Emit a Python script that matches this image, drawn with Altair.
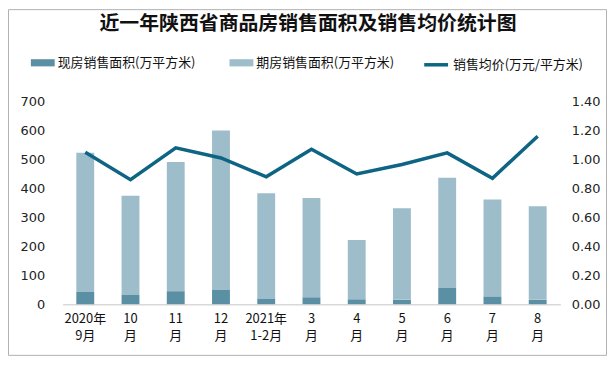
import altair as alt
import pandas as pd

categories = ["2020年|9月", "10|月", "11|月", "12|月", "2021年|1-2月", "3|月", "4|月", "5|月", "6|月", "7|月", "8|月"]
xianfang = [42, 32, 45, 49, 20, 24, 17, 15, 58, 27, 15]
total_area = [523, 375, 491, 600, 383, 367, 222, 331, 437, 362, 338]
qifang = [t - x for t, x in zip(total_area, xianfang)]
price = [1.05, 0.86, 1.08, 1.01, 0.88, 1.07, 0.90, 0.965, 1.045, 0.87, 1.16]
title_text = "近一年陕西省商品房销售面积及销售均价统计图"

S1 = "现房销售面积(万平方米)"
S2 = "期房销售面积(万平方米)"
S3 = "销售均价(万元/平方米)"

rows = []
for c, a, b in zip(categories, xianfang, qifang):
    rows.append({"cat": c, "type": S1, "value": a, "ord": 0})
    rows.append({"cat": c, "type": S2, "value": b, "ord": 1})
bars_df = pd.DataFrame(rows)
line_df = pd.DataFrame({"cat": categories, "price": price, "series": [S3] * len(categories)})

FONT = "Noto Sans CJK SC"

x_enc = alt.X("cat:N", sort=categories, title=None,
              scale=alt.Scale(paddingInner=0, paddingOuter=0),
              axis=alt.Axis(labelExpr="split(datum.label, '|')", labelAngle=0,
                            labelFontSize=13, labelFont=FONT, labelColor="#111111",
                            labelPadding=8, labelLineHeight=18, ticks=False,
                            domainColor="#d9d9d9", domainWidth=1.5))

bars = alt.Chart(bars_df).mark_bar(size=18).encode(
    x=x_enc,
    y=alt.Y("value:Q", stack="zero", title=None,
            scale=alt.Scale(domain=[0, 700]),
            axis=alt.Axis(orient="left", values=list(range(0, 701, 100)), domain=False,
                          ticks=False, grid=False, labelPadding=18, labelFontSize=13,
                          labelFont="DejaVu Sans", labelColor="#222222")),
    color=alt.Color("type:N", scale=alt.Scale(domain=[S1, S2], range=["#5b8fa3", "#9ebdca"]),
                    legend=alt.Legend(orient="none", legendX=-32, legendY=-51, direction="horizontal",
                                      title=None, symbolType="M-1,-0.3H1V0.3H-1Z", symbolSize=576,
                                      symbolStrokeWidth=0, labelFontSize=13, labelFont=FONT,
                                      labelColor="#111111", columnPadding=34, labelOffset=3)),
    order=alt.Order("ord:Q"),
)

line = alt.Chart(line_df).mark_line(strokeWidth=3.5).encode(
    x=alt.X("cat:N", sort=categories),
    y=alt.Y("price:Q", title=None, scale=alt.Scale(domain=[0, 1.4]),
            axis=alt.Axis(orient="right", values=[0, 0.2, 0.4, 0.6, 0.8, 1.0, 1.2, 1.4], format=".2f",
                          domain=False, ticks=False, grid=False, labelPadding=11, labelFontSize=13,
                          labelFont="DejaVu Sans", labelColor="#222222")),
    stroke=alt.Stroke("series:N", scale=alt.Scale(domain=[S3], range=["#0d6483"]),
                      legend=alt.Legend(orient="none", legendX=362, legendY=-51, title=None,
                                        symbolType="stroke", symbolSize=576, symbolStrokeWidth=3.5,
                                        labelFontSize=13, labelFont=FONT, labelColor="#111111",
                                        labelOffset=3)),
)

one = pd.DataFrame({"t": [title_text]})

border = alt.Chart(one).mark_rect(fill="#ffffff", fillOpacity=0, stroke="#b0b0b0", strokeWidth=1).encode(
    x=alt.value(-54.5), x2=alt.value(547.5), y=alt.value(-92.5), y2=alt.value(255.5)
)

title = alt.Chart(one).mark_text(fontSize=20, font=FONT, fontWeight="bold", color="#111111",
                                 align="center", baseline="middle").encode(
    text="t:N", x=alt.value(247), y=alt.value(-78)
)

chart = alt.layer(border, bars, line, title).resolve_scale(y="independent").properties(
    width=501, height=204,
    autosize=alt.AutoSizeParams(type="none"),
    padding={"left": 55, "top": 93, "right": 47, "bottom": 52},
).configure_view(stroke=None).configure_axis(grid=False)

chart.save("out.html", embed_options={"renderer": "svg", "actions": False})
